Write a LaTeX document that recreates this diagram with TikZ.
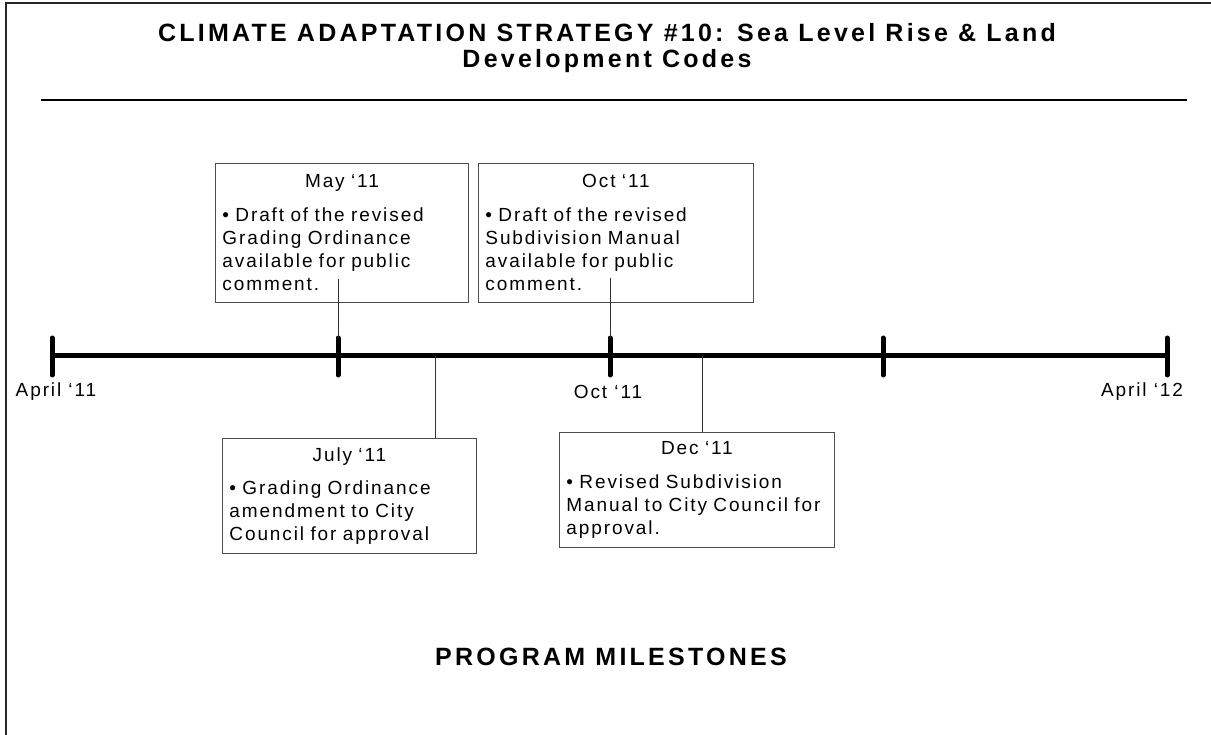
\documentclass[tikz,border=0pt]{standalone}
\usepackage{fontspec}
\setmainfont{Liberation Sans}
\newcommand\bodyfnt{\fontsize{19}{23}\selectfont\addfontfeature{LetterSpace=10}}
\newcommand\headfnt{\fontsize{25}{28}\selectfont\bfseries\addfontfeature{LetterSpace=13}}
\newcommand\titlefnt{\fontsize{25}{26}\selectfont\bfseries\addfontfeature{LetterSpace=13}}
\begin{document}
\begin{tikzpicture}[x=1pt,y=-1pt,
  mbox/.style={draw=black!70, line width=0.9pt, anchor=north west, inner xsep=7pt, inner ysep=3pt, font=\bodyfnt},
  conn/.style={draw=black!80, line width=0.9pt},
  tline/.style={line width=5pt},
  tick/.style={line width=5pt, line cap=round},
  lbl/.style={font=\bodyfnt, inner sep=0pt},
  frame/.style={line width=2pt, draw=black!85}]
\useasboundingbox (0,0) rectangle (1211,735);
% outer frame (partial)
\draw[frame] (6,735) -- (6,3) -- (1211,3);
% title
\node[font=\titlefnt, align=center] (title) at (607,48) {CLIMATE ADAPTATION STRATEGY \#10: Sea Level Rise \& Land\\Development Codes};
\coordinate (rl) at (41,100);
\coordinate (rr) at (1187,100);
\draw[line width=2.5pt] (rl) -- (rr);
% timeline
\coordinate (t1) at (52,356);
\coordinate (t2) at (338,356);
\coordinate (t3) at (610,356);
\coordinate (t4) at (883,356);
\coordinate (t5) at (1167,356);
\draw[tline] (t1) -- (t5);
\foreach \t in {t1,t2,t3,t4,t5}{\draw[tick] ([yshift=18pt]\t) -- ([yshift=-19pt]\t);}
% axis labels
\node[lbl] (l1) at (56,392) {April ‘11};
\node[lbl] (l3) at (608,392) {Oct ‘11};
\node[lbl] (l5) at (1142,392) {April ‘12};
% boxes
\node[mbox, minimum width=253pt, minimum height=139pt, text width=239pt] (may) at (215,163)
  {{\centering May ‘11\par}\vspace{11pt}\raggedright • Draft of the revised\\Grading Ordinance\\available for public\\comment.};
\node[mbox, minimum width=275pt, minimum height=139pt, text width=261pt] (oct) at (478,163)
  {{\centering Oct ‘11\par}\vspace{11pt}\raggedright • Draft of the revised\\Subdivision Manual\\available for public\\comment.};
\node[mbox, minimum width=254pt, minimum height=115pt, text width=240pt] (july) at (222,438)
  {{\centering July ‘11\par}\vspace{10pt}\raggedright • Grading Ordinance\\amendment to City\\Council for approval};
\node[mbox, minimum width=275pt, minimum height=115pt, text width=261pt] (dec) at (559,432)
  {{\centering Dec ‘11\par}\vspace{11pt}\raggedright • Revised Subdivision\\Manual to City Council for\\approval.};
% connectors
\coordinate (mc) at (338,279);
\coordinate (oc) at (610,278);
\coordinate (jc) at (435,356);
\coordinate (dc) at (702,356);
\draw[conn] (mc) -- ([yshift=18pt]t2);
\draw[conn] (oc) -- ([yshift=18pt]t3);
\draw[conn] (jc) -- (jc |- july.north);
\draw[conn] (dc) -- (dc |- dec.north);
% footer
\node[font=\headfnt] (pm) at (611,657) {PROGRAM MILESTONES};
\end{tikzpicture}
\end{document}
